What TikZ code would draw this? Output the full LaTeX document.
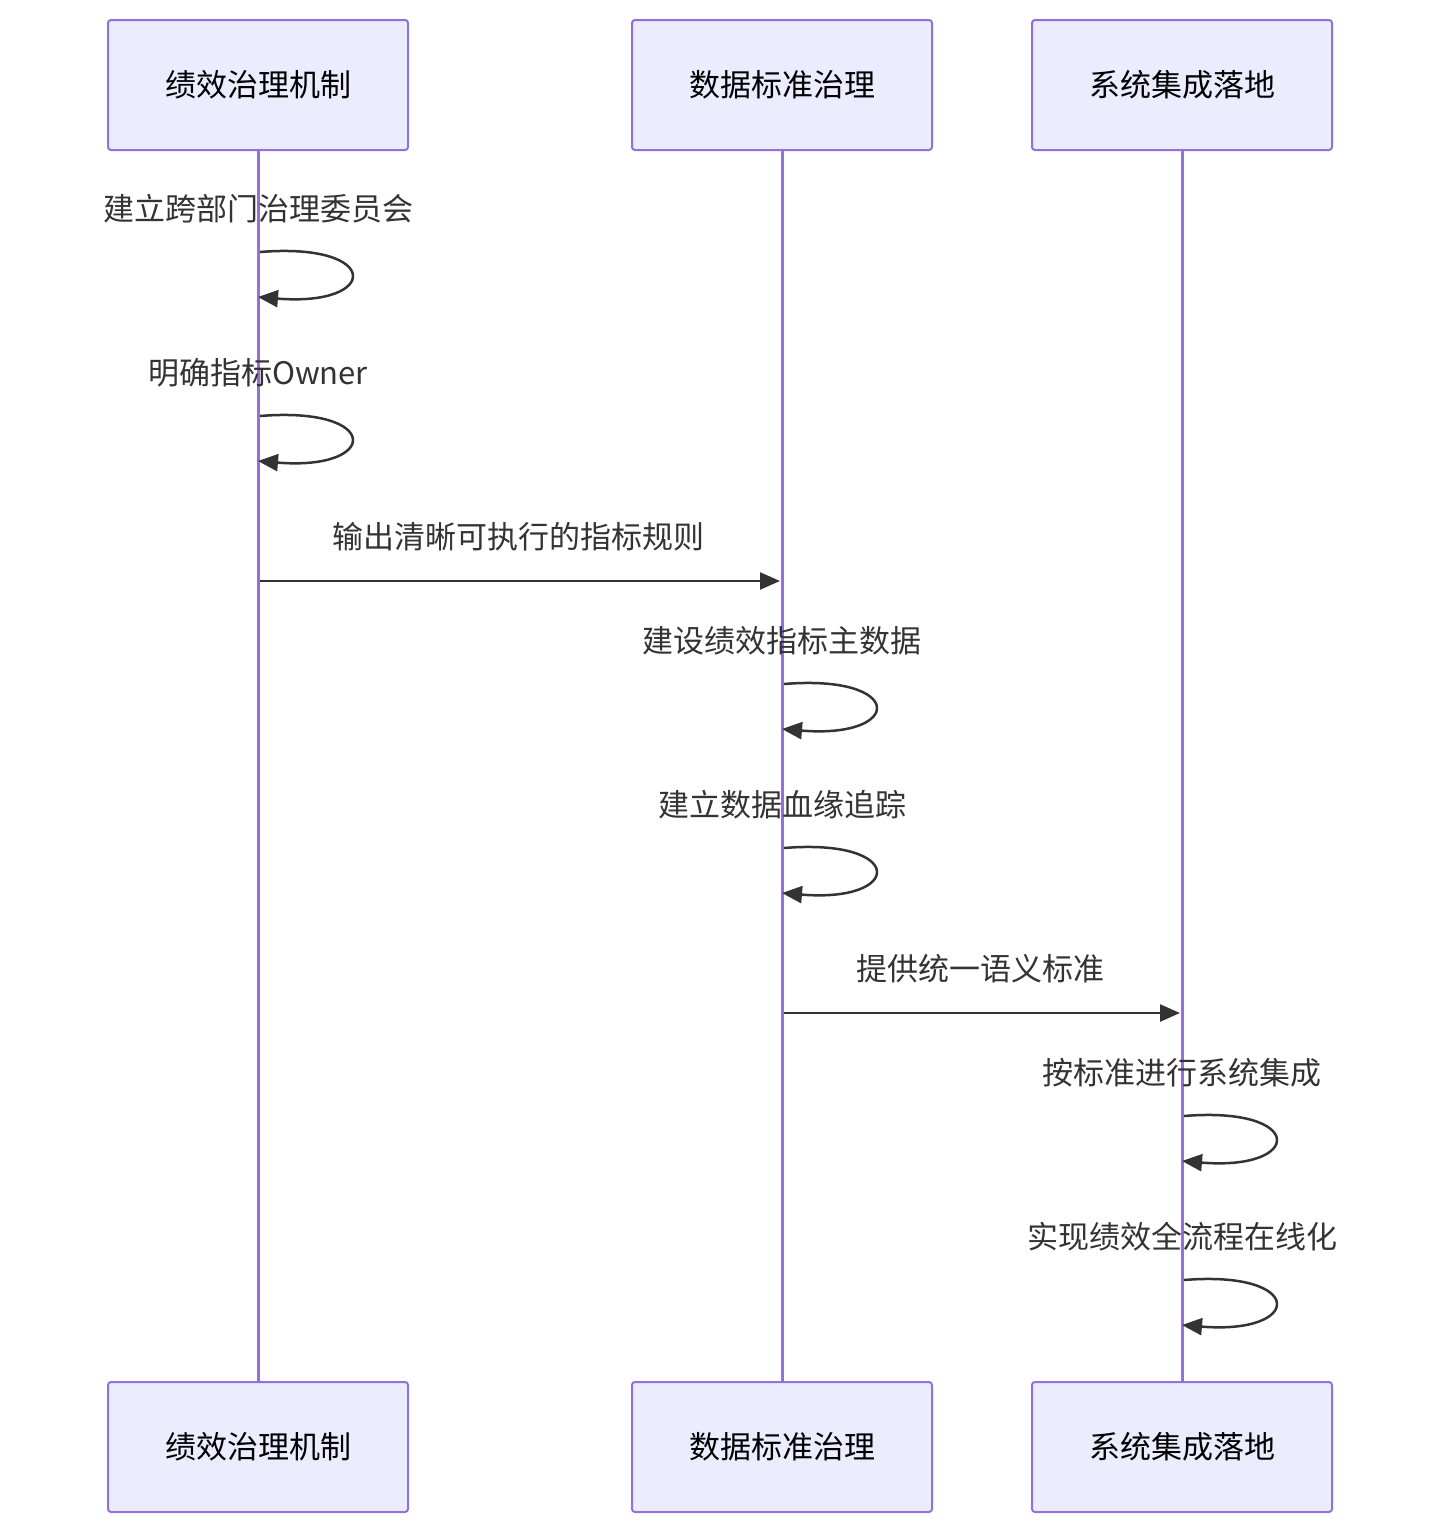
\documentclass[tikz,border=0pt]{standalone}
\usepackage{fontspec}
\setmainfont{Noto Sans CJK SC}
\usetikzlibrary{arrows.meta,calc}
\definecolor{boxfill}{HTML}{ECECFF}
\definecolor{boxline}{HTML}{9370DB}
\definecolor{ink}{HTML}{333333}
\begin{document}
\begin{tikzpicture}[x=1pt,y=-1pt,
  actor/.style={draw=boxline,fill=boxfill,line width=2pt,rounded corners=3pt,minimum width=300pt,minimum height=130pt,font=\fontsize{31}{36}\selectfont,text=black},
  life/.style={draw=boxline,line width=3pt},
  msg/.style={draw=ink,line width=2.5pt,-{Triangle[length=20pt,width=17pt]}},
  lbl/.style={font=\fontsize{31}{36}\selectfont,text=ink}]
\useasboundingbox (0,0) rectangle (1444,1534);
\node[actor] (a1) at (258,85) {绩效治理机制};
\node[actor] (a2) at (782,85) {数据标准治理};
\node[actor] (a3) at (1182,85) {系统集成落地};
\node[actor] (b1) at (258,1447) {绩效治理机制};
\node[actor] (b2) at (782,1447) {数据标准治理};
\node[actor] (b3) at (1182,1447) {系统集成落地};
\draw[life] (a1.south) -- (b1.north);
\draw[life] (a2.south) -- (b2.north);
\draw[life] (a3.south) -- (b3.north);
\foreach \x/\y/\t in {258/209/建立跨部门治理委员会,258/373/明确指标Owner,782/641/建设绩效指标主数据,782/805/建立数据血缘追踪,1182/1073/按标准进行系统集成,1182/1237/实现绩效全流程在线化}{
  \node[lbl] at (\x,\y) {\t};
  \coordinate (s) at (\x+2,\y+43);
  \coordinate (e) at (\x,\y+88);
  \draw[msg] (s) .. controls ($(s)+(122,-10)$) and ($(e)+(122,10)$) .. (e);
}
\node[lbl] (m1) at (518,537) {输出清晰可执行的指标规则};
\coordinate (m1s) at (260,581);
\coordinate (m1e) at (780,581);
\draw[msg] (m1s) -- (m1e);
\node[lbl] (m2) at (980,969) {提供统一语义标准};
\coordinate (m2s) at (784,1013);
\coordinate (m2e) at (1180,1013);
\draw[msg] (m2s) -- (m2e);
\end{tikzpicture}
\end{document}
